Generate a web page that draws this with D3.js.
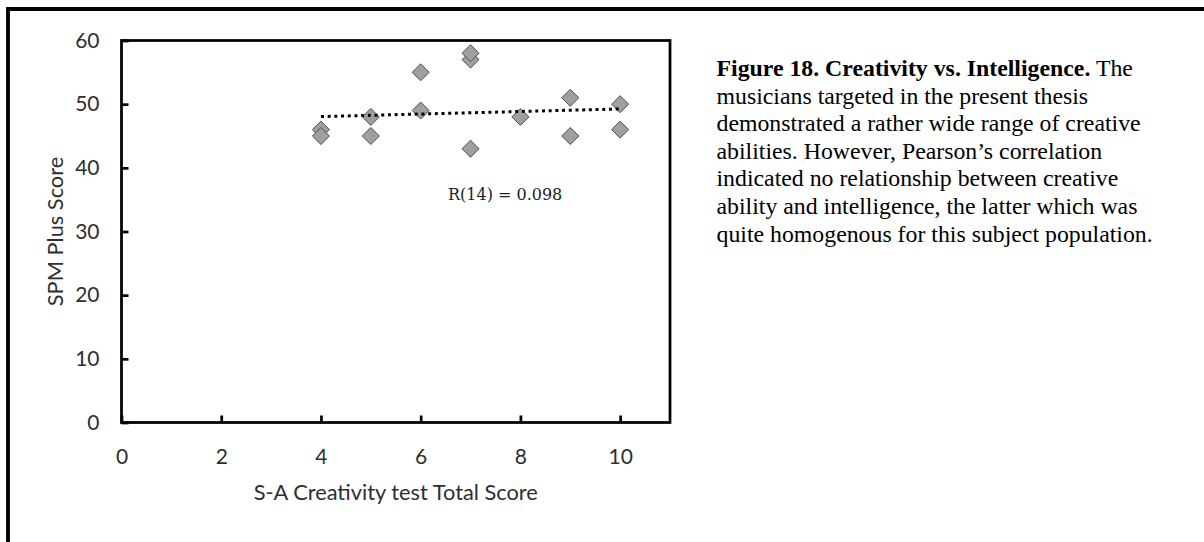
<!DOCTYPE html>
<html>
<head>
<meta charset="utf-8">
<script src="https://cdn.jsdelivr.net/npm/d3@7"></script>
<style>
  body { margin: 0; background: #fff; }
  svg { display: block; }
</style>
</head>
<body>
<svg id="chart" width="1204" height="542"></svg>
<script>
// Creativity (S-A test total) and intelligence (SPM Plus) per musician
const creativity = [4, 4, 5, 5, 6, 6, 7, 7, 7, 8, 9, 9, 10, 10];
const spmPlus    = [46, 45, 48, 45, 55, 49, 57, 58, 43, 48, 51, 45, 50, 46];

// Axis ticks
const xTicks = [0, 2, 4, 6, 8, 10];
const yTicks = [0, 10, 20, 30, 40, 50, 60];

// Linear trendline end points
const trendX = [4, 10];
const trendY = [48.05, 49.25];

const correlationLabel = "R(14) = 0.098";
const xTitle = "S-A Creativity test Total Score";
const yTitle = "SPM Plus Score";

const captionBold = "Figure 18. Creativity vs. Intelligence.";
const captionLines = [
  " The",
  "musicians targeted in the present thesis",
  "demonstrated a rather wide range of creative",
  "abilities. However, Pearson\u2019s correlation",
  "indicated no relationship between creative",
  "ability and intelligence, the latter which was",
  "quite homogenous for this subject population."
];

const svg = d3.select("#chart");
const chartFont = "Lato, 'Open Sans', sans-serif";
const tickColor = "#2e2e2e";

// Page border (top and left edges of the figure box)
svg.append("path")
  .attr("d", "M8,542 L8,9 L1204,9")
  .attr("fill", "none")
  .attr("stroke", "#000")
  .attr("stroke-width", 3.8);

const plot = { left: 121.5, right: 670, top: 40.5, bottom: 422.5 };

const x = d3.scaleLinear().domain([0, 11]).range([plot.left, plot.right]);
const y = d3.scaleLinear().domain([0, 60]).range([plot.bottom, plot.top]);

// Y axis (ticks point into the plot)
const yAxis = svg.append("g")
  .attr("transform", `translate(${plot.left},0)`)
  .call(d3.axisLeft(y).tickValues(yTicks).tickSize(-7).tickPadding(22).tickFormat(d3.format("d")));
yAxis.select(".domain").remove();
yAxis.selectAll(".tick line").attr("stroke", "#000").attr("stroke-width", 2.75);
yAxis.selectAll(".tick text")
  .attr("fill", tickColor)
  .style("font-family", chartFont)
  .style("font-size", "21px");

// X axis
const xAxis = svg.append("g")
  .attr("transform", `translate(0,${plot.bottom})`)
  .call(d3.axisBottom(x).tickValues(xTicks).tickSize(-7).tickPadding(27).tickFormat(d3.format("d")));
xAxis.select(".domain").remove();
xAxis.selectAll(".tick line").attr("stroke", "#000").attr("stroke-width", 2.75);
xAxis.selectAll(".tick text")
  .attr("fill", tickColor)
  .style("font-family", chartFont)
  .style("font-size", "21px");

// Plot frame
svg.append("rect")
  .attr("x", plot.left)
  .attr("y", plot.top)
  .attr("width", plot.right - plot.left)
  .attr("height", plot.bottom - plot.top)
  .attr("fill", "none")
  .attr("stroke", "#000")
  .attr("stroke-width", 2.75);

// Axis titles
svg.append("text")
  .attr("x", (plot.left + plot.right) / 2)
  .attr("y", 500)
  .attr("text-anchor", "middle")
  .attr("fill", tickColor)
  .style("font-family", chartFont)
  .style("font-size", "21.8px")
  .text(xTitle);

svg.append("text")
  .attr("transform", `translate(62.5,${(plot.top + plot.bottom) / 2}) rotate(-90)`)
  .attr("text-anchor", "middle")
  .attr("fill", tickColor)
  .style("font-family", chartFont)
  .style("font-size", "21.8px")
  .text(yTitle);

// Diamond markers
const points = creativity.map((c, i) => ({ x: c, y: spmPlus[i] }));
const diamond = d3.symbol().type(d3.symbolDiamond2).size(185);
svg.append("g")
  .selectAll("path")
  .data(points)
  .join("path")
  .attr("transform", d => `translate(${x(d.x)},${y(d.y)})`)
  .attr("d", diamond)
  .attr("fill", "#9f9f9f")
  .attr("stroke", "#505050")
  .attr("stroke-width", 1);

// Dotted linear trendline
const trend = trendX.map((v, i) => [v, trendY[i]]);
svg.append("path")
  .datum(trend)
  .attr("d", d3.line().x(d => x(d[0])).y(d => y(d[1])))
  .attr("fill", "none")
  .attr("stroke", "#000")
  .attr("stroke-width", 3)
  .attr("stroke-dasharray", "3 3.7");

// Correlation annotation
svg.append("text")
  .attr("x", 448)
  .attr("y", 199.5)
  .attr("fill", "#222")
  .style("font-family", "'DejaVu Serif', serif")
  .style("font-size", "16px")
  .text(correlationLabel);

// Figure caption
const caption = svg.append("g")
  .style("font-family", "'Liberation Serif', 'Times New Roman', serif")
  .style("font-size", "23.8px")
  .attr("fill", "#000");

const lineHeight = 27.6;
captionLines.forEach((line, i) => {
  const t = caption.append("text")
    .attr("x", 716.5)
    .attr("y", 76 + i * lineHeight)
    .attr("xml:space", "preserve");
  if (i === 0) {
    t.append("tspan").attr("font-weight", "bold").text(captionBold);
    t.append("tspan").text(line);
  } else {
    t.text(line);
  }
});
</script>
</body>
</html>
